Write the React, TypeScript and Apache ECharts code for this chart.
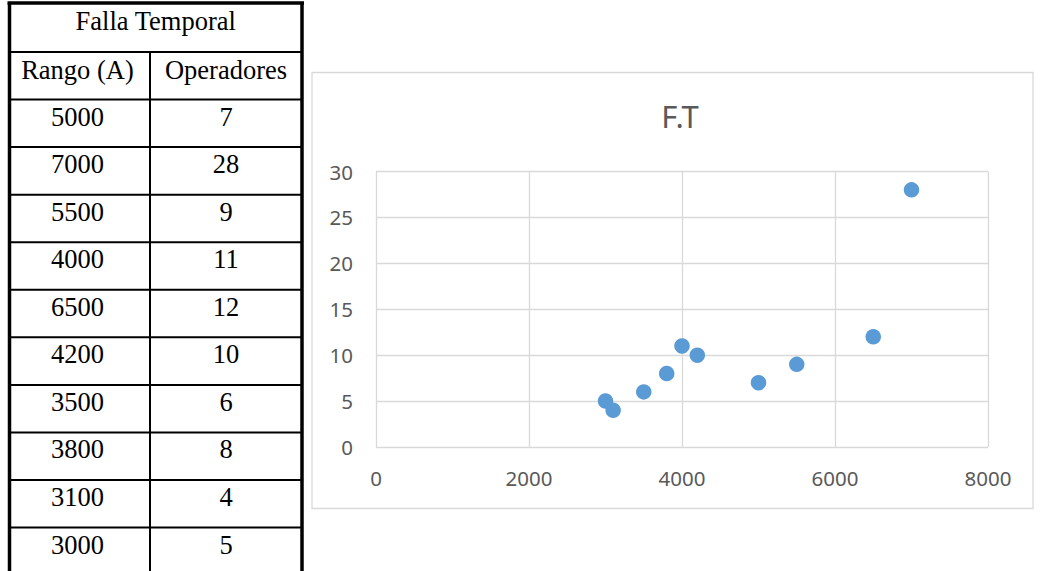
import React, { useEffect, useRef } from "react";
import * as echarts from "echarts";

const tableTitle = "Falla Temporal";
const colHeaders = ["Rango (A)", "Operadores"];
const rango = [5000, 7000, 5500, 4000, 6500, 4200, 3500, 3800, 3100, 3000];
const operadores = [7, 28, 9, 11, 12, 10, 6, 8, 4, 5];
const chartTitle = "F.T";
const xTicks = { min: 0, max: 8000, interval: 2000 };
const yTicks = { min: 0, max: 30, interval: 5 };

const GRID = "#d9d9d9";
const LABEL = "#595959";
const DOT = "#5b9bd5";
const SANS = "Noto Sans";
const SERIF = "Liberation Serif, Times New Roman, serif";

function buildTable(): any[] {
  const L = 9.5, R = 302, M = 150, T = 3, B = 575;
  const top0 = 52, pitch = 47.56;
  const els: any[] = [];
  const line = (x1: number, y1: number, x2: number, y2: number, w: number) =>
    els.push({ type: "line", shape: { x1, y1, x2, y2 }, style: { stroke: "#000", lineWidth: w }, silent: true });
  line(L - 2, T, R + 2, T, 3.5);
  line(L, T, L, B, 3.5);
  line(R, T, R, B, 3.5);
  line(M, top0, M, B, 2);
  for (let i = 0; i <= rango.length; i++) {
    const y = top0 + i * pitch;
    line(L, y, R, y, 2);
  }
  const txt = (text: string, x: number, y: number) =>
    els.push({
      type: "text",
      style: { text, x, y, align: "center", verticalAlign: "middle", fill: "#000", font: `26.5px ${SERIF}` },
      silent: true,
    });
  const c1 = 77.5, c2 = 226;
  txt(tableTitle, (L + R) / 2, 21);
  txt(colHeaders[0], c1, top0 + 17.5);
  txt(colHeaders[1], c2, top0 + 17.5);
  rango.forEach((r, i) => {
    const y = top0 + (i + 1) * pitch + 17;
    txt(String(r), c1, y);
    txt(String(operadores[i]), c2, y);
  });
  return els;
}

export default function App() {
  const ref = useRef<HTMLDivElement>(null);
  useEffect(() => {
    if (!ref.current) return;
    const chart = echarts.init(ref.current, undefined, { renderer: "svg" });
    chart.setOption({
      animation: false,
      backgroundColor: "#fff",
      title: {
        text: chartTitle,
        left: 675,
        top: 95,
        textAlign: "center",
        textStyle: { color: LABEL, fontFamily: SANS, fontWeight: "normal", fontSize: 31 },
      },
      grid: { left: 376, top: 171.5, width: 612, height: 275.5, containLabel: false },
      xAxis: {
        type: "value",
        min: xTicks.min,
        max: xTicks.max,
        interval: xTicks.interval,
        axisLine: { show: false },
        axisTick: { show: false },
        splitLine: { show: true, lineStyle: { color: GRID, width: 1.3 } },
        axisLabel: { color: LABEL, fontFamily: SANS, fontSize: 20.5, margin: 20, formatter: (v: number) => String(v) },
      },
      yAxis: {
        type: "value",
        min: yTicks.min,
        max: yTicks.max,
        interval: yTicks.interval,
        axisLine: { show: false },
        axisTick: { show: false },
        splitLine: { show: true, lineStyle: { color: GRID, width: 1.3 } },
        axisLabel: { color: LABEL, fontFamily: SANS, fontSize: 20.5, margin: 23, formatter: (v: number) => String(v) },
      },
      series: [
        {
          type: "scatter",
          symbol: "circle",
          symbolSize: 15.5,
          itemStyle: { color: DOT, opacity: 1 },
          data: rango.map((r, i) => [r, operadores[i]]),
        },
      ],
      graphic: [
        {
          type: "rect",
          shape: { x: 312, y: 72.5, width: 721, height: 436 },
          style: { fill: "none", stroke: GRID, lineWidth: 1.3 },
          silent: true,
          z: -1,
        },
        ...buildTable(),
      ],
    });
    return () => chart.dispose();
  }, []);
  return <div ref={ref} style={{ position: "absolute", left: 0, top: 0, width: 1043, height: 571 }} />;
}
